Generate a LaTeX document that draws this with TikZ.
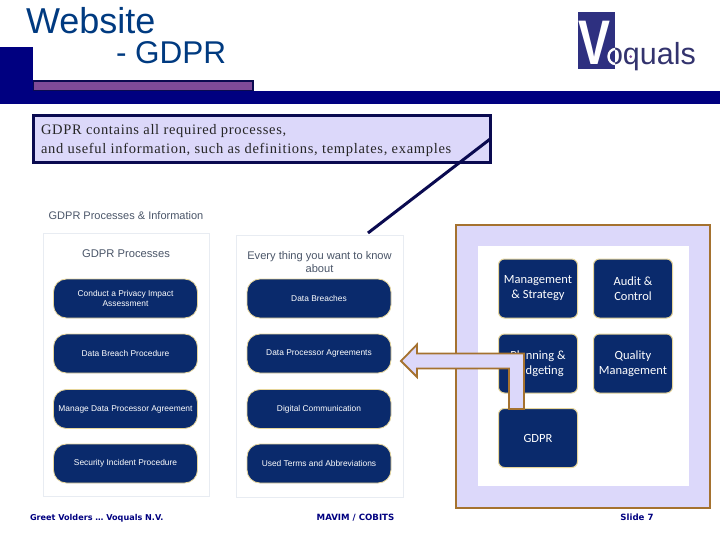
\documentclass[tikz,border=0pt]{standalone}
\usepackage{fontspec}
\setmainfont{Liberation Sans}
\newfontfamily\serifx[LetterSpace=4.7]{Liberation Serif}
\newfontfamily\carl{Carlito}
\newfontfamily\dejav{DejaVu Sans}
\definecolor{barblue}{HTML}{000080}
\definecolor{darkedge}{HTML}{0A0A50}
\definecolor{lilac}{HTML}{DCD8FA}
\definecolor{purp}{HTML}{7F4A98}
\definecolor{titleblue}{HTML}{003A80}
\definecolor{logoblue}{HTML}{2E3080}
\definecolor{logotext}{HTML}{33336E}
\definecolor{navybtn}{HTML}{0A2A6C}
\definecolor{btnedge}{HTML}{E6D59A}
\definecolor{brownedge}{HTML}{A5722F}
\definecolor{cardedge}{HTML}{E8ECF2}
\definecolor{greytxt}{HTML}{4A5568}
\tikzset{
  every node/.style={outer sep=0pt},
  pill/.style={draw=btnedge,line width=0.8pt,fill=navybtn,rounded corners=13pt,text=white,align=center,font=\fontsize{8.4}{10}\selectfont,inner sep=0pt,minimum width=144pt,minimum height=39pt,anchor=north west},
  tile/.style={draw=btnedge,line width=1pt,fill=navybtn,rounded corners=6pt,text=white,align=center,font=\carl\fontsize{12.5}{15}\selectfont,inner sep=0pt,minimum width=79pt,minimum height=59pt,anchor=north west},
  card/.style={draw=cardedge,line width=1pt,fill=white,inner sep=0pt,anchor=north west},
  foot/.style={font=\dejav\bfseries\fontsize{8.6}{10}\selectfont,text=barblue,inner sep=0pt},
  titletxt/.style={font=\fontsize{36}{40}\selectfont,text=titleblue,inner sep=0pt,anchor=base west},
  cardtxt/.style={text=greytxt,inner sep=0pt,align=center},
  calltxt/.style={inner sep=0pt,anchor=base west,font=\serifx\fontsize{14.5}{14.5}\selectfont,text=black!85}
}
\begin{document}
\begin{tikzpicture}[x=1pt,y=-1pt]
\useasboundingbox (0,0) rectangle (720,540);
% header
\fill[barblue] (0,47) rectangle (33,104);
\fill[barblue] (33,91) rectangle (720,104);
\fill[darkedge] (33,80) rectangle (254,91);
\fill[purp] (34,82.5) rectangle (252,90);
\node[titletxt] (t1) at (26,33.5) {Website};
\node[titletxt,font=\fontsize{31.5}{36}\selectfont] (t2) at (116,64) {- GDPR};
% logo
\fill[logoblue] (578,12) rectangle (615,69);
\node[inner sep=0pt,text=white,font=\bfseries\fontsize{63}{63}\selectfont,xscale=0.76,anchor=base] (logov) at (594,65) {V};
\node[inner sep=0pt,anchor=base west,text=logotext,font=\fontsize{30.5}{30}\selectfont] (logot) at (606,65) {oquals};
\begin{scope}
\clip (578,12) rectangle (615,69);
\draw[white,line width=2.4pt] (615.5,56.5) ellipse (7pt and 7.5pt);
\end{scope}
\fill[purp] (630.7,56.7) circle (1.5pt);
% callout
\node[draw=darkedge,line width=3pt,fill=lilac,anchor=north west,minimum width=456.4pt,minimum height=47pt,inner sep=0pt] (callout) at (33.8,115.5) {};
\node[calltxt] (c1) at (41,135) {GDPR contains all required processes,};
\node[calltxt] (c2) at (41,154) {and useful information, such as definitions, templates, examples};
\coordinate (lineend) at (368,233);
\draw[darkedge,line width=3pt] (callout.east) -- (lineend);
% cards
\node[cardtxt,font=\fontsize{11}{12}\selectfont,anchor=base] (head) at (126,220) {GDPR Processes \& Information};
\node[card,minimum width=166pt,minimum height=263pt] (card1) at (43,233) {};
\node[card,minimum width=167pt,minimum height=262pt] (card2) at (236,235) {};
\node[cardtxt,font=\fontsize{11.2}{12}\selectfont,anchor=base] (h1) at (126,257) {GDPR Processes};
\node[cardtxt,font=\fontsize{11.1}{13}\selectfont,anchor=north] (h2) at (319.5,251) {Every thing you want to know\\about};
\node[pill] (a1) at (53.5,279) {Conduct a Privacy Impact\\Assessment};
\node[pill] (a2) at (53.5,334) {Data Breach Procedure};
\node[pill] (a3) at (53.5,389.5) {Manage Data Processor Agreement};
\node[pill] (a4) at (53.5,444) {Security Incident Procedure};
\node[pill] (b1) at (247,279) {Data Breaches};
\node[pill] (b2) at (247,334) {Data Processor Agreements};
\node[pill] (b3) at (247,389.5) {Digital Communication};
\node[pill] (b4) at (247,444) {Used Terms and Abbreviations};
% right panel
\node[draw=brownedge,line width=2pt,fill=lilac,anchor=north west,minimum width=254.5pt,minimum height=283.5pt,inner sep=0pt] (panel) at (455.7,224.6) {};
\node[fill=white,anchor=north west,minimum width=211pt,minimum height=240pt,inner sep=0pt] (inner) at (478,246) {};
\node[tile] (r1) at (498.5,259) {Management\\\& Strategy};
\node[tile] (r2) at (593.5,259) {Audit \&\\Control};
\node[tile] (r3) at (498.5,334) {Planning \&\\Budgeting};
\node[tile] (r4) at (593.5,334) {Quality\\Management};
\node[tile] (r5) at (498.5,408.5) {GDPR};
% arrow
\draw[brownedge,line width=1.8pt,fill=lilac,miter limit=10] (401,361) -- (417,344.5) -- (417,353.5) -- (524,353.5) -- (524,409) -- (509,409) -- (509,368.5) -- (417,368.5) -- (417,377) -- cycle;
% footer
\node[foot,font=\dejav\bfseries\fontsize{8.1}{10}\selectfont,anchor=base west] (f1) at (30,520) {Greet Volders … Voquals N.V.};
\node[foot,anchor=base] (f2) at (355.5,520) {MAVIM / COBITS};
\node[foot,anchor=base] (f3) at (637,520) {Slide 7};
\end{tikzpicture}
\end{document}
